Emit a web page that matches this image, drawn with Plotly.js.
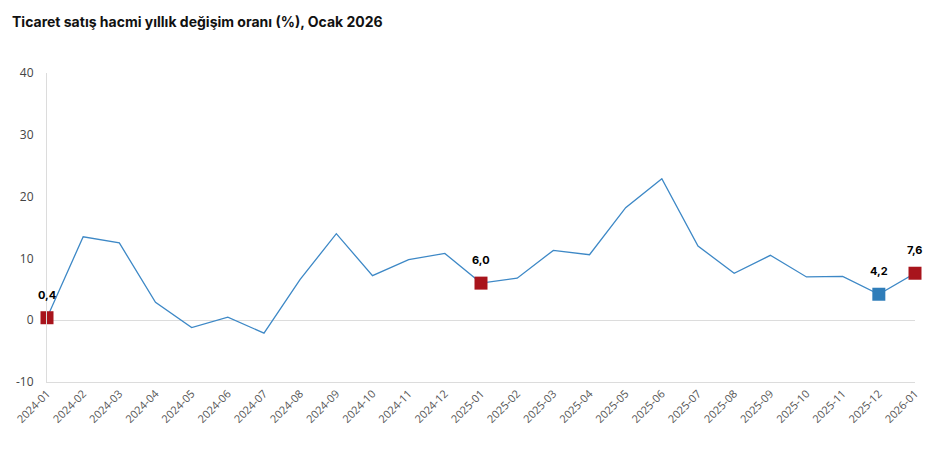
<!DOCTYPE html>
<html>
<head>
<meta charset="utf-8">
<script src="https://cdn.plot.ly/plotly-3.0.1.min.js"></script>
<style>html,body{margin:0;padding:0;background:#fff;}#chart{width:952px;height:456px;}</style>
</head>
<body>
<div id="chart"></div>
<script>
var months = ["2024-01","2024-02","2024-03","2024-04","2024-05","2024-06","2024-07","2024-08","2024-09","2024-10","2024-11","2024-12",
              "2025-01","2025-02","2025-03","2025-04","2025-05","2025-06","2025-07","2025-08","2025-09","2025-10","2025-11","2025-12","2026-01"];
var values = [0.4, 13.5, 12.5, 2.9, -1.2, 0.5, -2.1, 6.6, 14.0, 7.2, 9.8, 10.8,
              6.0, 6.8, 11.3, 10.6, 18.2, 22.9, 12.0, 7.6, 10.5, 7.0, 7.1, 4.2, 7.6];
var highlightMonths = ["2024-01","2025-01","2025-12","2026-01"];
var highlightValues = [0.4, 6.0, 4.2, 7.6];
var highlightLabels = ["0,4","6,0","4,2","7,6"];
var highlightColors = ["#A8141C","#A8141C","#2F7DB9","#A8141C"];

var lineTrace = {
  x: months, y: values, type: "scatter", mode: "lines",
  line: {color: "#3D88C6", width: 1.3}, hoverinfo: "x+y", cliponaxis: false
};
var markTrace = {
  x: highlightMonths, y: highlightValues, type: "scatter", mode: "markers",
  marker: {symbol: "square", size: 13, color: highlightColors, line: {width: 0}},
  cliponaxis: false
};
var annotations = highlightMonths.map(function(m, i){
  return {x: m, y: highlightValues[i], text: highlightLabels[i], showarrow: false,
          yshift: 23, font: {family: "Inter, Arial, sans-serif", size: 11, color: "#000", weight: 700}};
});

var layout = {
  width: 952, height: 456,
  margin: {l: 47, r: 37, t: 73, b: 74},
  paper_bgcolor: "#fff", plot_bgcolor: "#fff",
  showlegend: false,
  title: {text: "<b>Ticaret satış hacmi yıllık değişim oranı (%), Ocak 2026</b>",
          xref: "container", x: 12/952, xanchor: "left",
          yref: "container", y: 1 - 22/456, yanchor: "middle",
          font: {family: "Inter, Arial, sans-serif", size: 14, color: "#111"}},
  xaxis: {
    type: "category", categoryorder: "array", categoryarray: months,
    range: [0, 24], showgrid: false, zeroline: false,
    showline: true, linecolor: "#dcdcdc", linewidth: 1,
    ticks: "", tickangle: -45,
    tickfont: {family: "Open Sans, Arial, sans-serif", size: 11, color: "#555"}
  },
  yaxis: {
    range: [-10, 40], tickvals: [-10, 0, 10, 20, 30, 40], ticktext: ["-10","0","10","20","30","40"],
    showgrid: false, zeroline: true, zerolinecolor: "#dcdcdc", zerolinewidth: 1,
    showline: true, linecolor: "#dcdcdc", linewidth: 1,
    ticks: "", ticklabelstandoff: 10,
    tickfont: {family: "Open Sans, Arial, sans-serif", size: 12, color: "#444"}
  },
  annotations: annotations
};
Plotly.newPlot("chart", [lineTrace, markTrace], layout, {displayModeBar: false, staticPlot: true});
</script>
</body>
</html>
